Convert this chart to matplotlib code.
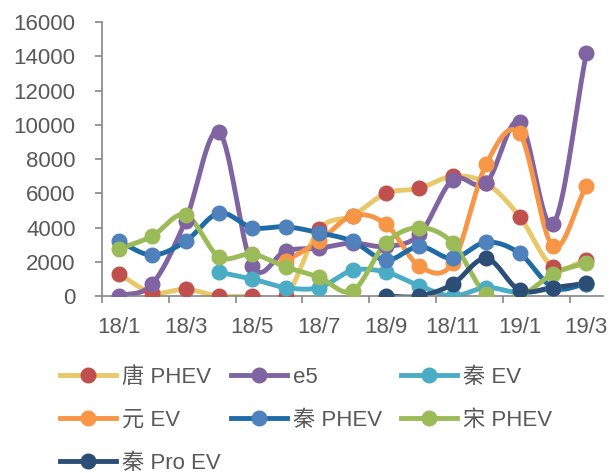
import numpy as np
import matplotlib
matplotlib.use("Agg")
import matplotlib.pyplot as plt
from matplotlib.lines import Line2D

plt.rcParams['font.family'] = ['Liberation Sans', 'Noto Sans CJK SC']

months = ['18/1', '18/2', '18/3', '18/4', '18/5', '18/6', '18/7', '18/8',
          '18/9', '18/10', '18/11', '18/12', '19/1', '19/2', '19/3']
nan = np.nan

tang_phev = [1300, 200, 400, 0, 0, 0, 3900, 4700, 6000, 6300, 7000, 6600, 4650, 1700, 2100]
e5 = [0, 700, 4400, 9600, 1750, 2650, 2800, 3100, 2900, 3600, 6800, 6600, 10200, 4200, 14200]
qin_ev = [nan, nan, nan, 1400, 1000, 500, 500, 1500, 1400, 600, 0, 500, 200, 450, 700]
yuan_ev = [nan, nan, nan, nan, nan, 2050, 3200, 4700, 4200, 1750, 1950, 7700, 9500, 2900, 6450]
qin_phev = [3200, 2400, 3200, 4850, 4000, 4050, 3700, 3200, 2100, 2900, 2200, 3150, 2500, 500, 700]
song_phev = [2750, 3500, 4750, 2300, 2450, 1700, 1100, 300, 3100, 4000, 3100, 100, 0, 1300, 1950]
qin_pro_ev = [nan, nan, nan, nan, nan, nan, nan, nan, 0, 0, 700, 2200, 350, 500, 750]

series = [
    ('唐 PHEV', tang_phev, '#E8C868', '#C0504D'),
    ('e5', e5, '#8064A2', '#8064A2'),
    ('秦 EV', qin_ev, '#4BACC6', '#4BACC6'),
    ('元 EV', yuan_ev, '#F79646', '#F79646'),
    ('秦 PHEV', qin_phev, '#1F6BA5', '#4F81BD'),
    ('宋 PHEV', song_phev, '#9BBB59', '#9BBB59'),
    ('秦 Pro EV', qin_pro_ev, '#2C4D75', '#2C4D75'),
]


def smooth(x, y, n=20):
    # catmull-rom style smoothing like excel's smoothed lines
    xs, ys = [], []
    for i in range(len(x) - 1):
        p0 = y[i - 1] if i > 0 else y[i]
        p3 = y[i + 2] if i + 2 < len(y) else y[i + 1]
        m1 = (y[i + 1] - p0) / (2 if i > 0 else 1)
        m2 = (p3 - y[i]) / (2 if i + 2 < len(y) else 1)
        t = np.linspace(0, 1, n)
        h00 = 2 * t**3 - 3 * t**2 + 1
        h10 = t**3 - 2 * t**2 + t
        h01 = -2 * t**3 + 3 * t**2
        h11 = t**3 - t**2
        xs.append(x[i] + t * (x[i + 1] - x[i]))
        ys.append(h00 * y[i] + h10 * m1 + h01 * y[i + 1] + h11 * m2)
    return np.concatenate(xs), np.concatenate(ys)


fig = plt.figure(figsize=(6.11, 4.73), dpi=100)
ax = fig.add_axes([0.167, 0.374, 0.82, 0.579])

handles = []
for name, vals, lc, mc in series:
    v = np.array(vals, dtype=float)
    x = np.arange(len(v))
    ok = ~np.isnan(v)
    xv, yv = x[ok], v[ok]
    sx, sy = smooth(xv, yv)
    ax.plot(sx, sy, color=lc, lw=3.5, solid_capstyle='round', zorder=2)
    ax.plot(xv, yv, ls='none', marker='o', ms=10.5, mfc=mc, mec=mc, zorder=3)
    handles.append(Line2D([], [], color=lc, lw=3.5, marker='o', ms=10.5, mfc=mc, mec=mc))

ax.set_xlim(-0.5, 14.5)
ax.set_ylim(0, 16000)
ax.set_yticks(range(0, 16001, 2000))
ax.set_xticks(range(0, 15, 2))
ax.set_xticklabels(months[::2])
ax.set_xticks(np.arange(-0.5, 14, 2), minor=True)
ax.tick_params(axis='x', which='major', length=0, pad=15, labelsize=16, labelcolor='#595959')
ax.tick_params(axis='x', which='minor', length=5, color='#868686', width=1.2)
ax.tick_params(axis='y', length=5, color='#868686', width=1.2, labelsize=16, labelcolor='#595959', pad=14)
for s in ['top', 'right']:
    ax.spines[s].set_visible(False)
for s in ['left', 'bottom']:
    ax.spines[s].set_color('#868686')
    ax.spines[s].set_linewidth(1.2)

# legend laid out row by row, one legend per column
labels = [s[0] for s in series]
col_x = [60, 231, 401]
for c in range(3):
    idx = list(range(c, len(series), 3))
    fig.legend([handles[i] for i in idx], [labels[i] for i in idx],
               loc='upper left', bbox_to_anchor=(col_x[c] / 611, 1 - 367 / 473),
               frameon=False, fontsize=16, borderpad=0, borderaxespad=0,
               handlelength=2.5, handletextpad=0.3, labelspacing=0.98,
               labelcolor='#595959')

fig.savefig('out.png', dpi=100)
